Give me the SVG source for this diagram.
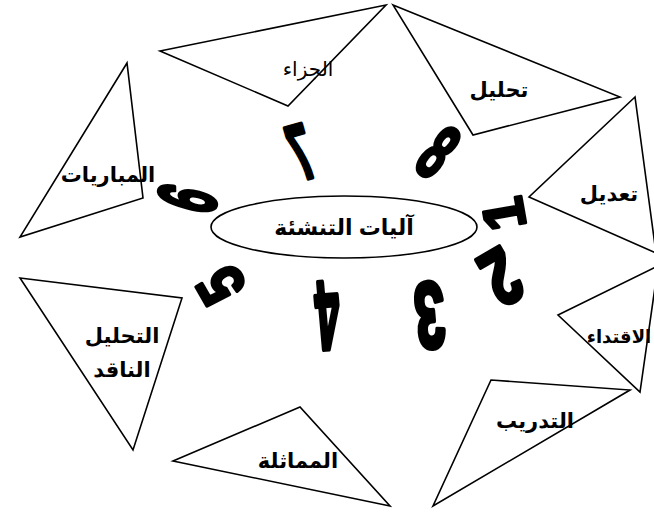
<svg xmlns="http://www.w3.org/2000/svg" width="654" height="512" viewBox="0 0 654 512">
<style>
.tri{fill:#fff;stroke:#000;stroke-width:1.6;stroke-linejoin:miter}
.lbl{font-family:"Liberation Sans","DejaVu Sans",sans-serif;font-weight:bold;font-size:21px;fill:#000;text-anchor:middle}
.reg{font-family:"Liberation Sans","DejaVu Sans",sans-serif;font-size:20px;fill:#000;text-anchor:middle}
.num{font-family:"Liberation Sans","DejaVu Sans",sans-serif;font-weight:bold;font-size:72px;fill:#000;stroke:#000;stroke-width:4;stroke-linejoin:round;text-anchor:middle}
</style>
<rect width="654" height="512" fill="#fff"/>
<g id="n-jazaa"><polygon class="tri" points="160,51 386,5 288,106"/><text class="reg" x="308" y="76">الجزاء</text></g>
<g id="n-tahlil"><polygon class="tri" points="393,5 620,97 473,135"/><text class="lbl" x="499" y="97">تحليل</text></g>
<g id="n-taadil"><polygon class="tri" points="635,97 529,197 656,253"/><text class="lbl" x="609" y="201">تعديل</text></g>
<g id="n-iqtida"><polygon class="tri" points="558,315 658,266 640,392"/><text class="lbl" x="619" y="343" style="font-size:18px">الاقتداء</text></g>
<g id="n-tadrib"><polygon class="tri" points="491,380 630,390 433,506"/><text class="lbl" x="535" y="428">التدريب</text></g>
<g id="n-mumathala"><polygon class="tri" points="300,407 173,461 390,506"/><text class="lbl" x="298" y="468">المماثلة</text></g>
<g id="n-naqid"><polygon class="tri" points="20,278 182,298 133,450"/><text class="lbl" x="122" y="343">التحليل</text><text class="lbl" x="122" y="377">الناقد</text></g>
<g id="n-mubarayat"><polygon class="tri" points="127,63 20,237 143,198"/><text class="lbl" x="108" y="182">المباريات</text></g>
<g id="n-center"><ellipse cx="344" cy="227" rx="133" ry="31" fill="#fff" stroke="#000" stroke-width="1.6"/><text class="lbl" x="344" y="235" style="font-size:22px">آليات التنشئة</text></g>
<g id="connectors">
<text class="num" transform="translate(503,214) rotate(-100) scale(0.8,0.8)" y="26">1</text>
<text class="num" transform="translate(502,278) rotate(150) scale(0.8,1.1)" y="26">2</text>
<text class="num" transform="translate(430,317) rotate(175) scale(0.75,1.3)" y="26">3</text>
<text class="num" transform="translate(328,317) rotate(175) scale(0.6,1.35)" y="26">4</text>
<text class="num" transform="translate(220,286) rotate(-120) scale(0.75,0.9)" y="26">5</text>
<text class="num" transform="translate(186,198) rotate(-75) scale(0.55,1.15)" y="26">6</text>
<text class="num" transform="translate(300,151) rotate(-16) scale(-0.55,1.1)" y="26">7</text>
<text class="num" transform="translate(439,151) rotate(38) scale(0.6,1.1)" y="26">8</text>
</g>
</svg>
